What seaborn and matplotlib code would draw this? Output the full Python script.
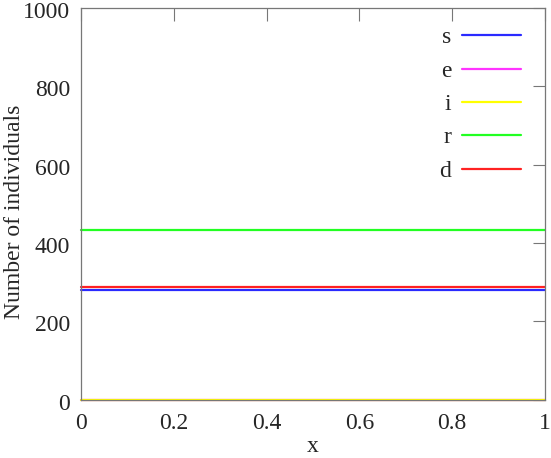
import numpy as np
import pandas as pd
import matplotlib
matplotlib.use("Agg")
import matplotlib.pyplot as plt
import matplotlib.transforms as mtransforms
import seaborn as sns

# Values (constant over x)
x_vals = [0.0, 1.0]
series_names = ["s", "e", "i", "r", "d"]
s_vals = [281, 281]
e_vals = [0, 0]
i_vals = [0, 0]
r_vals = [432, 432]
d_vals = [287, 287]
series_colors = ["#2a2aff", "#ff33ff", "#ffff00", "#22ff22", "#ff2222"]

x_ticks = [0, 0.2, 0.4, 0.6, 0.8, 1]
x_tick_labels = ["0", "0.2", "0.4", "0.6", "0.8", "1"]
y_ticks = [0, 200, 400, 600, 800, 1000]

sns.set_style("white")
plt.rcParams["font.family"] = ["Liberation Serif", "DejaVu Serif"]

rows = []
for name, vals in zip(series_names, [s_vals, e_vals, i_vals, r_vals, d_vals]):
    for xv, yv in zip(x_vals, vals):
        rows.append({"x": xv, "value": yv, "series": name})
df = pd.DataFrame(rows)

fig = plt.figure(figsize=(5.51, 4.58), dpi=100)
ax = fig.add_axes([0.147, 0.1277, 0.842, 0.8548])

sns.lineplot(data=df, x="x", y="value", hue="series", hue_order=series_names,
             palette=series_colors, linewidth=1.6, ax=ax)
for ln in ax.get_lines():
    ln.set_clip_on(False)

ax.set_xlim(0, 1)
ax.set_ylim(0, 1000)
ax.set_xticks(x_ticks)
ax.set_xticklabels(x_tick_labels)
ax.set_yticks(y_ticks)
ax.set_xlabel("x", fontsize=17, labelpad=1)
ax.set_ylabel("Number of individuals", fontsize=17)
ax.yaxis.set_label_coords(-0.121, 0.479)
ax.tick_params(direction="in", length=9, width=0.8, color="#777777",
               top=True, right=True, labelsize=17)
ax.tick_params(axis="x", pad=10)
ax.tick_params(axis="y", pad=8)

# y tick labels sit slightly below their ticks in the reference
shift = mtransforms.ScaledTranslation(0, -2 / 100, fig.dpi_scale_trans)
for lab in ax.get_yticklabels():
    lab.set_transform(lab.get_transform() + shift)

for sp in ax.spines.values():
    sp.set_color("#777777")
    sp.set_linewidth(0.9)

ax.legend(loc="upper right", bbox_to_anchor=(0.99, 1.0), frameon=False,
          markerfirst=False, fontsize=17, handlelength=2.5, handletextpad=0.47,
          labelspacing=0.5, borderaxespad=0.4)

fig.savefig("out.png", dpi=100)
